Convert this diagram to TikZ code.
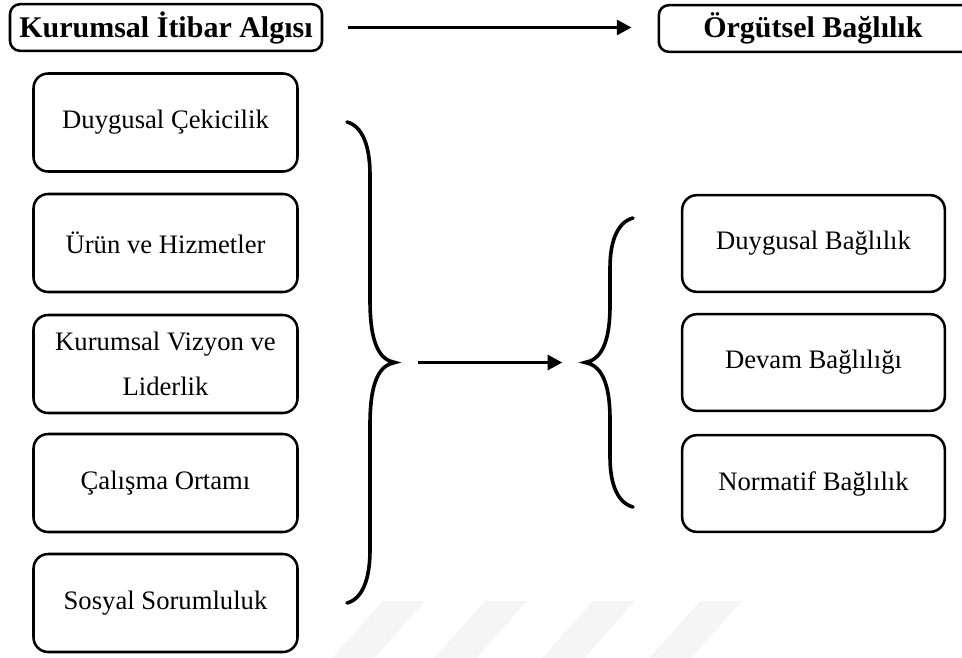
\documentclass[tikz,border=0pt]{standalone}
\usepackage{fontspec}
\setmainfont{Liberation Serif}
\usetikzlibrary{arrows.meta}
\begin{document}
\begin{tikzpicture}[x=0.75pt,y=-0.75pt,
  itembox/.style={draw, line width=1.9pt, rounded corners=11pt, fill=white,
    minimum width=198pt, minimum height=73.5pt, inner sep=0pt, align=center,
    font=\fontsize{20}{33.5}\selectfont},
  headbox/.style={draw, line width=1.9pt, rounded corners=7.5pt, fill=white,
    minimum height=35pt, inner sep=0pt,
    font=\fontsize{22.5}{27}\selectfont\bfseries},
  bracket/.style={line width=2.7pt, line cap=round},
  flow/.style={line width=2.7pt, -{Triangle[length=11pt,width=11pt]}},
  stripe/.style={fill=black!4, draw=none}
]
\useasboundingbox (0,0) rectangle (962,657);

% faint diagonal stripes along the bottom edge
\foreach \sx in {383,485,593,700}
  \fill[stripe] (\sx,601) -- (\sx+42,601) -- (\sx-15,665) -- (\sx-57,665) -- cycle;

% headings (the right one runs past the edge of the page)
\node[headbox, minimum width=234pt] (kia) at (166,27.5) {Kurumsal İtibar Algısı};
\node[headbox, minimum width=238pt] (ob) at (817.5,28.5) {\hspace*{-7pt}Örgütsel Bağlılık};
\draw[flow, shorten <=18.75pt, shorten >=19.5pt] (kia.east) -- (ob.west |- kia.east);

% dimensions of corporate reputation
\node[itembox] (dc) at (165.5,122.5) {Duygusal Çekicilik};
\node[itembox] (uh) at (165.5,243) {Ürün ve Hizmetler};
\node[itembox] (kv) at (165.5,364) {Kurumsal Vizyon ve\\Liderlik};
\node[itembox] (co) at (165.5,483) {Çalışma Ortamı};
\node[itembox] (ss) at (165.5,603) {Sosyal Sorumluluk};

% dimensions of organizational commitment
\node[itembox, minimum width=197pt, minimum height=72.5pt] (db) at (813.5,243.5) {Duygusal Bağlılık};
\node[itembox, minimum width=197pt, minimum height=72.5pt] (dv) at (813.5,362.5) {Devam Bağlılığı};
\node[itembox, minimum width=197pt, minimum height=72.5pt] (nb) at (813.5,483.5) {Normatif Bağlılık};

% brace tips
\coordinate (tipL) at (395,362.5);
\coordinate (tipR) at (585,362.5);

% closing brace grouping the left column
\draw[bracket] (347,122) .. controls (362,126) and (370,145) .. (370,175)
  -- (370,300) .. controls (370,345) and (380,360) .. (tipL)
  .. controls (380,365) and (370,380) .. (370,425)
  -- (370,550) .. controls (370,580) and (362,599) .. (347,603);

% opening brace grouping the right column
\draw[bracket] (633,218) .. controls (618,222) and (610,240) .. (610,268)
  -- (610,305) .. controls (610,345) and (600,360) .. (tipR)
  .. controls (600,365) and (610,380) .. (610,420)
  -- (610,457) .. controls (610,485) and (618,503) .. (633,507);

\draw[flow, shorten <=17pt, shorten >=17pt] (tipL) -- (tipR);
\end{tikzpicture}
\end{document}
